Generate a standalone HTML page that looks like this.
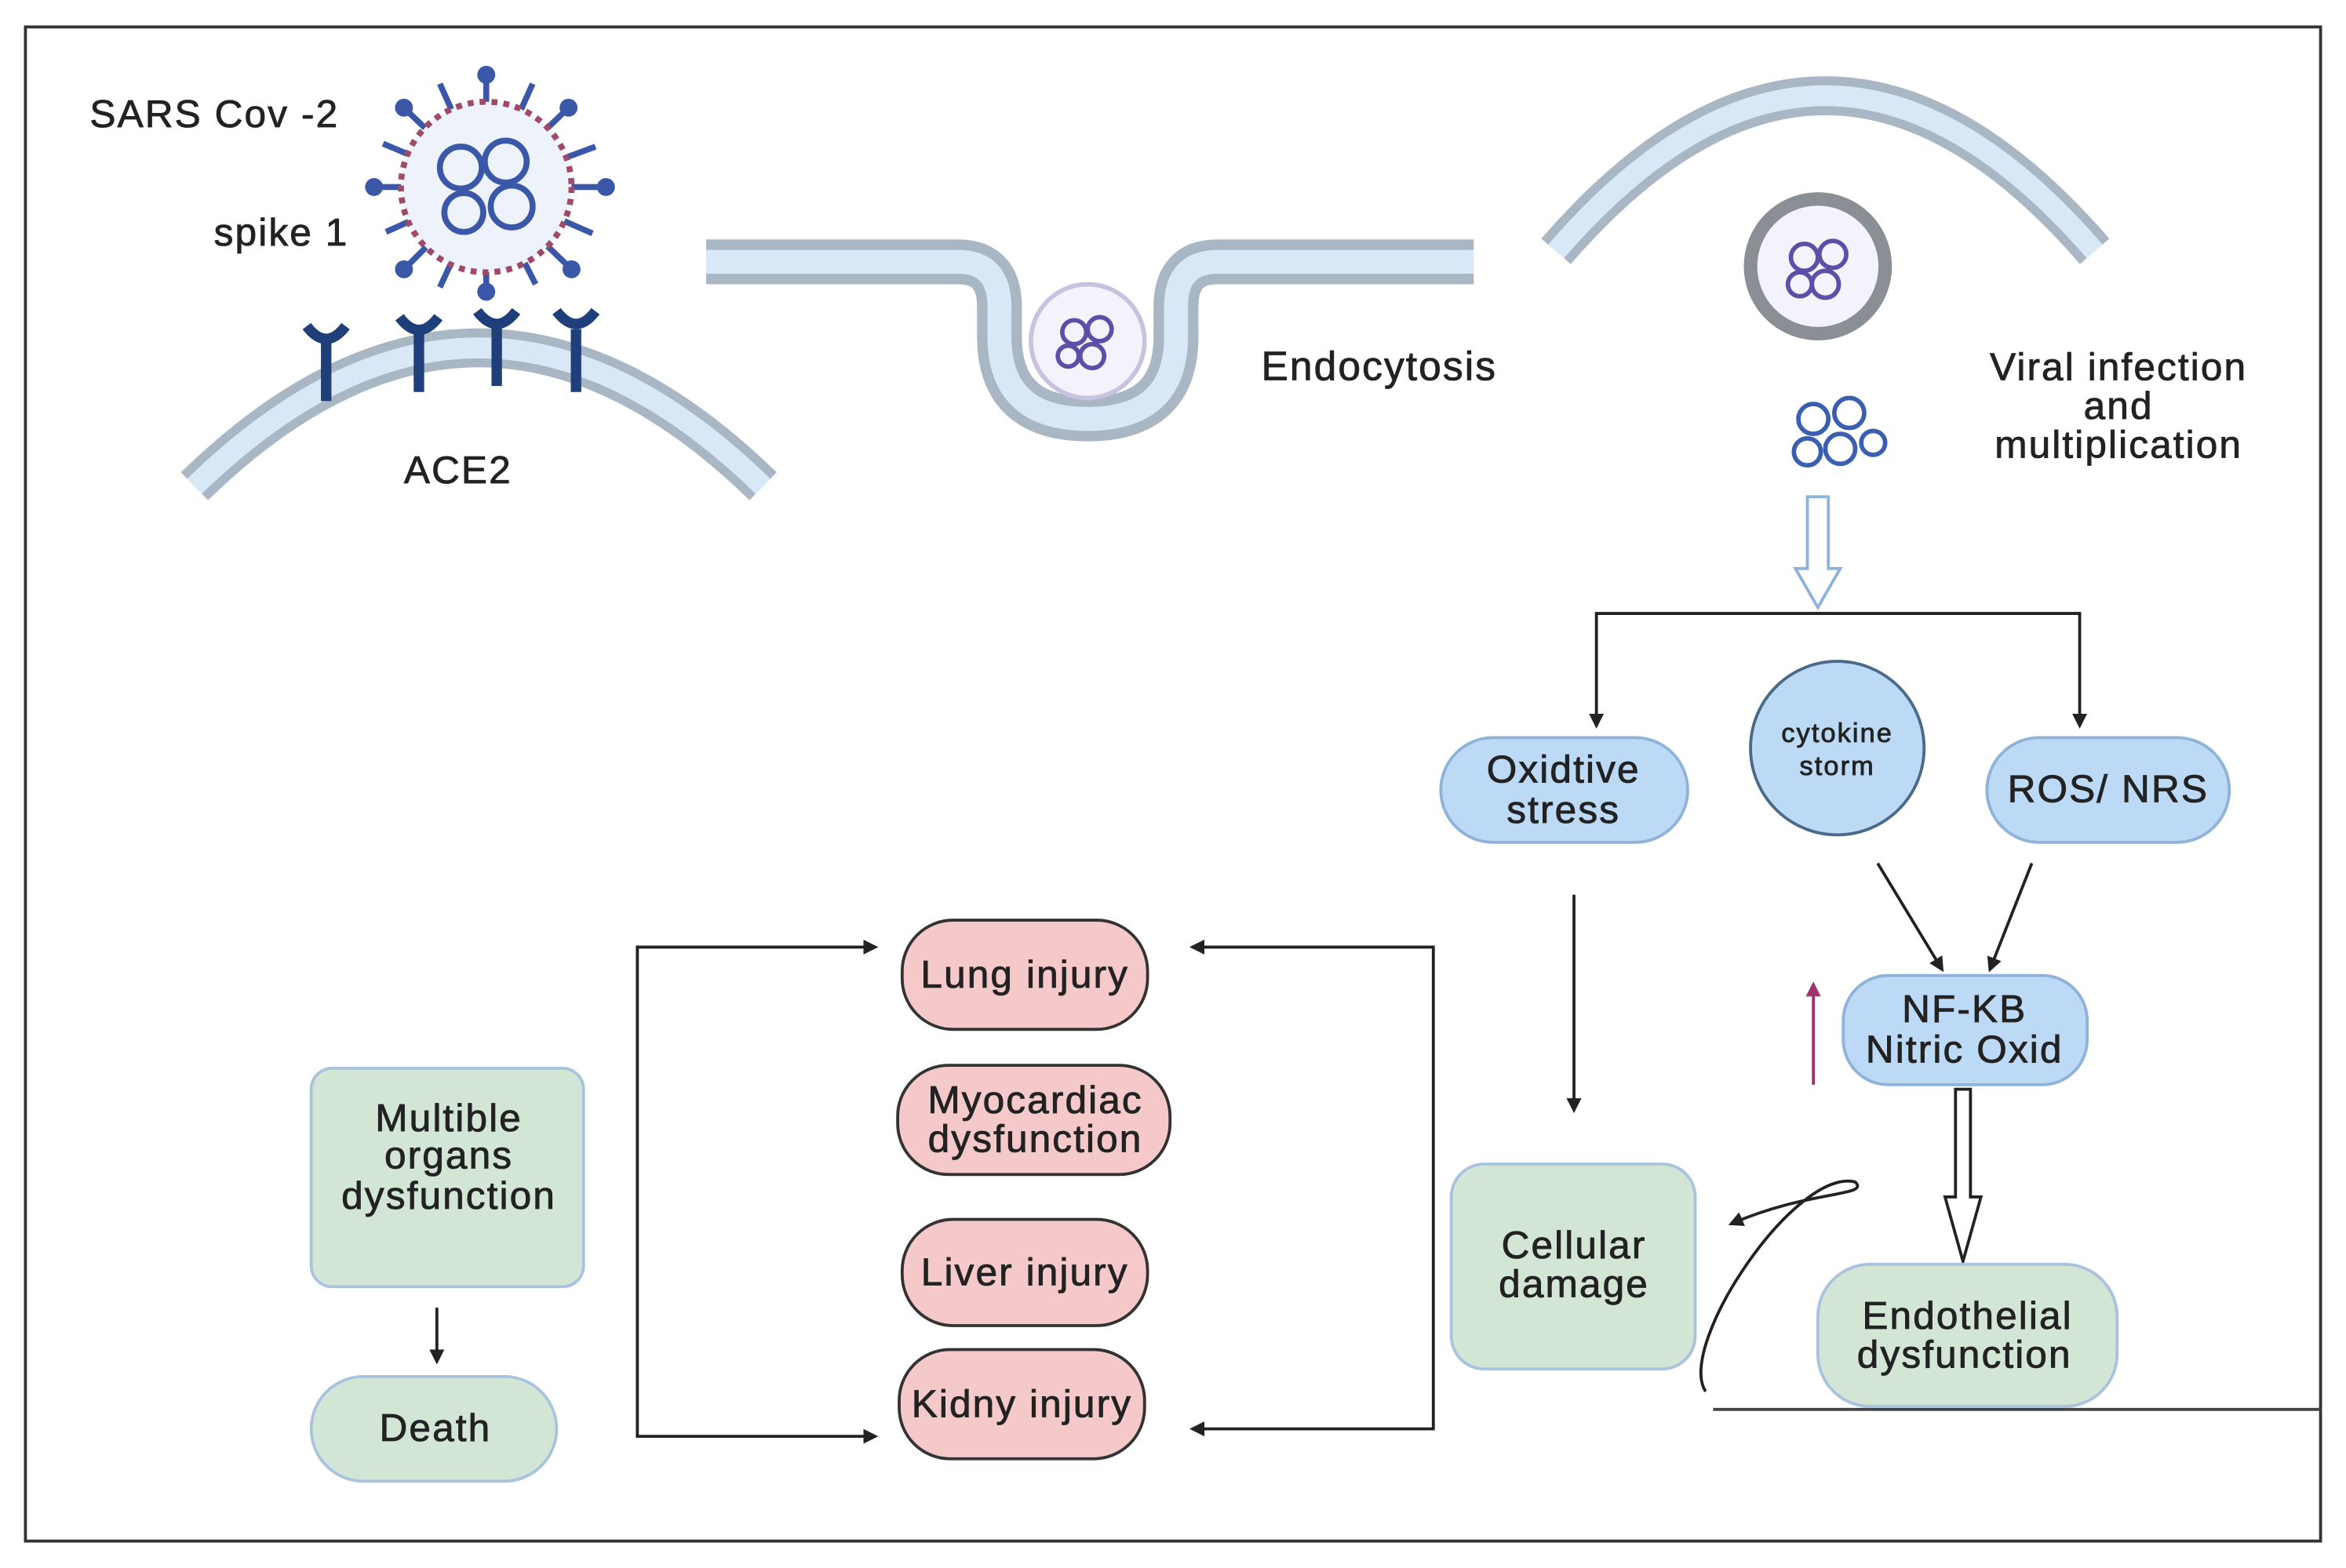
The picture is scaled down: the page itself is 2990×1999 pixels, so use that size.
<!DOCTYPE html>
<html><head><meta charset="utf-8"><style>html,body{margin:0;padding:0;background:#fff}svg{display:block}text{font-family:"Liberation Sans",sans-serif;fill:#222;stroke:#222;stroke-width:0.45;letter-spacing:1.1px}</style></head><body>
<svg width="2990" height="1999" viewBox="0 0 1568 1048" preserveAspectRatio="none" xmlns="http://www.w3.org/2000/svg">
<defs>
<marker id="a" markerWidth="10" markerHeight="10" refX="8" refY="5" orient="auto-start-reverse" markerUnits="userSpaceOnUse"><path d="M0,0 L10,5 L0,10 z" fill="#222"/></marker>
<marker id="p" markerWidth="10" markerHeight="10" refX="8" refY="5" orient="auto" markerUnits="userSpaceOnUse"><path d="M0,0 L10,5 L0,10 z" fill="#a0336a"/></marker>
</defs>
<rect x="17" y="18" width="1534" height="1012" fill="#fff" stroke="#333" stroke-width="2"/>
<path d="M130,325 Q320,140 510,325" fill="none" stroke="#a9b6c3" stroke-width="26"/>
<path d="M130,325 Q320,140 510,325" fill="none" stroke="#d8e8f7" stroke-width="14"/>
<path d="M1040,168 Q1220,-40 1400,168" fill="none" stroke="#a9b6c3" stroke-width="26"/>
<path d="M1040,168 Q1220,-40 1400,168" fill="none" stroke="#d8e8f7" stroke-width="14"/>
<path d="M472,175 L640,175 Q668,175 668,205 L668,225 Q668,280 727,280 Q786,280 786,225 L786,205 Q786,175 814,175 L985,175" fill="none" stroke="#a9b6c3" stroke-width="30"/>
<path d="M472,175 L640,175 Q668,175 668,205 L668,225 Q668,280 727,280 Q786,280 786,225 L786,205 Q786,175 814,175 L985,175" fill="none" stroke="#d8e8f7" stroke-width="16"/>
<circle cx="727" cy="228" r="38" fill="#f4f2fb" stroke="#c7c2e0" stroke-width="3"/>
<g fill="none" stroke="#5b4fa8" stroke-width="3"><circle cx="718" cy="222" r="8"/><circle cx="735" cy="220" r="8"/><circle cx="730" cy="238" r="8"/><circle cx="714" cy="238" r="7"/></g>
<circle cx="1215" cy="178" r="45" fill="#f4f2fb" stroke="#8a8f95" stroke-width="9"/>
<g fill="none" stroke="#5b4fa8" stroke-width="3"><circle cx="1206" cy="172" r="9"/><circle cx="1225" cy="170" r="9"/><circle cx="1220" cy="190" r="9"/><circle cx="1203" cy="190" r="8"/></g>
<g fill="none" stroke="#3b5fb0" stroke-width="3"><circle cx="1212" cy="280" r="10"/><circle cx="1236" cy="276" r="10"/><circle cx="1230" cy="300" r="10"/><circle cx="1208" cy="302" r="9"/><circle cx="1252" cy="296" r="8"/></g>
<g stroke="#3a57a8" stroke-width="4" fill="#3a57a8">
<line x1="325" y1="125" x2="325" y2="50"/><line x1="325" y1="125" x2="325" y2="195"/><line x1="325" y1="125" x2="250" y2="125"/><line x1="325" y1="125" x2="405" y2="125"/>
<line x1="325" y1="125" x2="270" y2="72"/><line x1="325" y1="125" x2="380" y2="72"/><line x1="325" y1="125" x2="270" y2="180"/><line x1="325" y1="125" x2="382" y2="180"/>
<line x1="325" y1="125" x2="294" y2="56"/><line x1="325" y1="125" x2="356" y2="56"/><line x1="325" y1="125" x2="256" y2="96"/><line x1="325" y1="125" x2="398" y2="98"/><line x1="325" y1="125" x2="258" y2="155"/><line x1="325" y1="125" x2="396" y2="156"/><line x1="325" y1="125" x2="294" y2="192"/><line x1="325" y1="125" x2="358" y2="190"/>
</g>
<g fill="#3a57a8"><circle cx="325" cy="50" r="6"/><circle cx="325" cy="195" r="6"/><circle cx="250" cy="125" r="6"/><circle cx="405" cy="125" r="6"/><circle cx="270" cy="72" r="6"/><circle cx="380" cy="72" r="6"/><circle cx="270" cy="180" r="6"/><circle cx="382" cy="180" r="6"/></g>
<circle cx="325" cy="125" r="57" fill="#eef3fb" stroke="#a04a6a" stroke-width="4" stroke-dasharray="4 4"/>
<g fill="none" stroke="#3a57a8" stroke-width="4"><circle cx="308" cy="112" r="14"/><circle cx="338" cy="108" r="14"/><circle cx="342" cy="138" r="14"/><circle cx="310" cy="142" r="13"/></g>
<g stroke="#1f3f7a" stroke-width="7" fill="none">
<line x1="218" y1="268" x2="218" y2="228"/><path d="M205,218 Q218,235 231,218"/>
<line x1="280" y1="262" x2="280" y2="222"/><path d="M267,212 Q280,229 293,212"/>
<line x1="332" y1="258" x2="332" y2="218"/><path d="M319,208 Q332,225 345,208"/>
<line x1="385" y1="262" x2="385" y2="220"/><path d="M372,208 Q385,225 398,208"/>
</g>
<text x="60" y="85" font-size="26">SARS Cov -2</text>
<text x="143" y="164" font-size="26">spike 1</text>
<text x="270" y="323" font-size="26">ACE2</text>
<text x="843" y="254" font-size="27">Endocytosis</text>
<text x="1416" y="254" font-size="26" text-anchor="middle">Viral infection</text>
<text x="1416" y="280" font-size="26" text-anchor="middle">and</text>
<text x="1416" y="306" font-size="26" text-anchor="middle">multiplication</text>
<path d="M1208,332 L1222,332 L1222,380 L1230,380 L1215,406 L1200,380 L1208,380 z" fill="#fff" stroke="#8fb3d8" stroke-width="2"/>
<g stroke="#222" stroke-width="2" fill="none">
<path d="M1067,485 L1067,410 L1390,410 L1390,485" marker-end="url(#a)" marker-start="url(#a)"/>
<line x1="1255" y1="577" x2="1298" y2="648" marker-end="url(#a)"/>
<line x1="1358" y1="577" x2="1330" y2="648" marker-end="url(#a)"/>
<line x1="1052" y1="598" x2="1052" y2="742" marker-end="url(#a)"/>
<path d="M585,633 L426,633 L426,960 L585,960" marker-end="url(#a)" marker-start="url(#a)"/>
<path d="M797,633 L958,633 L958,955 L797,955" marker-end="url(#a)" marker-start="url(#a)"/>
<line x1="292" y1="874" x2="292" y2="910" marker-end="url(#a)"/>
<path d="M1140,930 C1120,900 1200,780 1240,790 C1250,800 1210,795 1157,818" marker-end="url(#a)"/>
<line x1="1145" y1="942" x2="1551" y2="942" stroke="#444"/>
</g>
<line x1="1212" y1="725" x2="1212" y2="658" stroke="#a0336a" stroke-width="2" marker-end="url(#p)"/>
<path d="M1307,728 L1317,728 L1317,800 L1324,800 L1312,843 L1300,800 L1307,800 z" fill="#fff" stroke="#222" stroke-width="2"/>
<g fill="#bcdaf5" stroke="#8fb3d8" stroke-width="2">
<rect x="963" y="493" width="165" height="70" rx="35"/>
<circle cx="1228" cy="500" r="58" stroke="#4a6a8a"/>
<rect x="1328" y="493" width="162" height="70" rx="35"/>
<rect x="1232" y="652" width="163" height="73" rx="30"/>
</g>
<g fill="#d3e6d5" stroke="#a9c3de" stroke-width="2">
<rect x="970" y="778" width="163" height="137" rx="22"/>
<rect x="1215" y="845" width="200" height="95" rx="35"/>
<rect x="208" y="714" width="182" height="146" rx="14"/>
<rect x="208" y="920" width="164" height="70" rx="35"/>
</g>
<g fill="#f5c9c9" stroke="#333" stroke-width="2">
<rect x="603" y="615" width="164" height="73" rx="34"/>
<rect x="600" y="712" width="182" height="73" rx="34"/>
<rect x="603" y="815" width="164" height="71" rx="34"/>
<rect x="601" y="902" width="164" height="73" rx="34"/>
</g>
<g font-size="26" text-anchor="middle">
<text x="1045" y="523">Oxidtive</text><text x="1045" y="550">stress</text>
<text x="1228" y="496" font-size="18">cytokine</text><text x="1228" y="518" font-size="18">storm</text>
<text x="1409" y="536">ROS/ NRS</text>
<text x="1313" y="683">NF-KB</text><text x="1313" y="710">Nitric Oxid</text>
<text x="1052" y="841">Cellular</text><text x="1052" y="867">damage</text>
<text x="1315" y="888">Endothelial</text><text x="1313" y="914">dysfunction</text>
<text x="300" y="756">Multible</text><text x="300" y="781">organs</text><text x="300" y="808">dysfunction</text>
<text x="291" y="963">Death</text>
<text x="685" y="660">Lung injury</text>
<text x="692" y="744">Myocardiac</text><text x="692" y="770">dysfunction</text>
<text x="685" y="859">Liver injury</text>
<text x="683" y="947">Kidny injury</text>
</g>
</svg>
</body></html>
